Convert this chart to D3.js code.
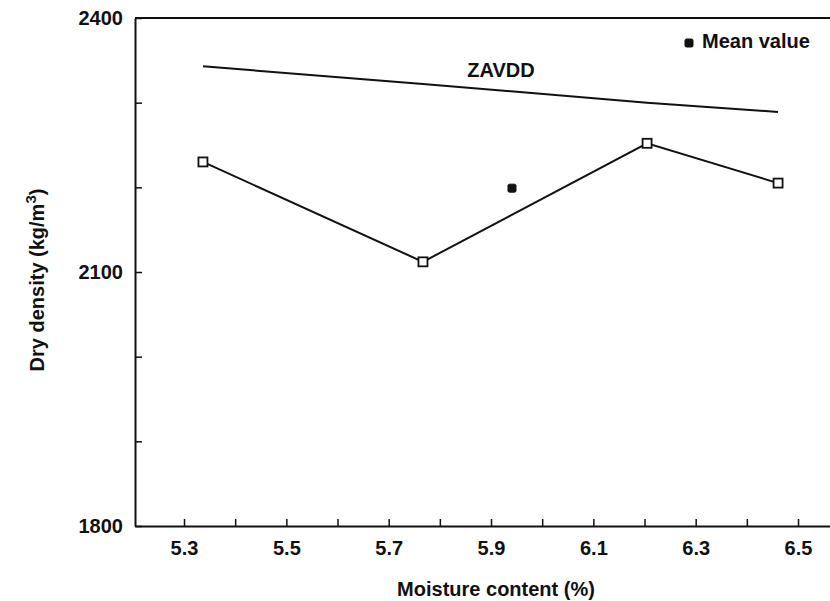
<!DOCTYPE html>
<html>
<head>
<meta charset="utf-8">
<script src="https://cdn.jsdelivr.net/npm/d3@7"></script>
<style>
  html, body { margin: 0; padding: 0; background: #fff; }
  text { font-family: "Liberation Sans", Arial, Helvetica, sans-serif; fill: #111; font-weight: bold; }
</style>
</head>
<body>
<svg id="chart" width="830" height="601"></svg>
<script>
// ---- data ----
const moisture = [5.337, 5.767, 6.205, 6.461];
const dryDensity = [2230, 2112, 2252, 2205];
const zavdd = [2343, 2322, 2300, 2289];
const meanMoisture = [5.941];
const meanDensity = [2199];
const xTickValues = [5.3, 5.4, 5.5, 5.6, 5.7, 5.8, 5.9, 6.0, 6.1, 6.2, 6.3, 6.4, 6.5];
const xTickLabels = ["5.3", "5.5", "5.7", "5.9", "6.1", "6.3", "6.5"];
const yTickValues = [1800, 1900, 2000, 2100, 2200, 2300, 2400];
const yTickLabels = ["1800", "2100", "2400"];

const svg = d3.select("#chart");
const x = d3.scaleLinear().domain([5.2042, 6.5625]).range([135, 830]);
const y = d3.scaleLinear().domain([1800, 2400]).range([526, 18]);

const ink = "#111";
const FS = 20;
const fontFam = "'Liberation Sans', Arial, sans-serif";

// top frame line
svg.append("line").attr("x1", x.range()[0]).attr("x2", x.range()[1])
  .attr("y1", y(2400)).attr("y2", y(2400)).attr("stroke", ink).attr("stroke-width", 2);

// x axis (ticks inward)
const xAxis = d3.axisBottom(x).tickValues(xTickValues).tickSizeInner(-7).tickSizeOuter(0)
  .tickFormat(d => xTickLabels.includes(d.toFixed(1)) ? d.toFixed(1) : "");
const gx = svg.append("g").attr("transform", `translate(0,${y(1800)})`).call(xAxis);
gx.select(".domain").attr("stroke", ink).attr("stroke-width", 2);
gx.selectAll(".tick line").attr("stroke", ink).attr("stroke-width", 1.5);
gx.selectAll(".tick text").attr("y", 15).attr("font-size", FS)
  .style("font-family", fontFam).style("font-weight", "bold").attr("fill", ink);

// y axis (ticks inward)
const yAxis = d3.axisLeft(y).tickValues(yTickValues).tickSizeInner(-7).tickSizeOuter(0)
  .tickFormat(d => yTickLabels.includes(String(d)) ? String(d) : "");
const gy = svg.append("g").attr("transform", `translate(${x.range()[0]},0)`).call(yAxis);
gy.select(".domain").attr("stroke", ink).attr("stroke-width", 2);
gy.selectAll(".tick line").attr("stroke", ink).attr("stroke-width", 1.5);
gy.selectAll(".tick text").attr("x", -12).attr("font-size", FS)
  .style("font-family", fontFam).style("font-weight", "bold").attr("fill", ink);

// axis titles
svg.append("text").attr("x", 496).attr("y", 596).attr("text-anchor", "middle")
  .attr("font-size", FS).text("Moisture content (%)");
const yt = svg.append("text").attr("transform", "translate(44,280) rotate(-90)")
  .attr("text-anchor", "middle").attr("font-size", FS);
yt.append("tspan").text("Dry density (kg/m");
yt.append("tspan").attr("dy", -8).attr("font-size", 15).text("3");
yt.append("tspan").attr("dy", 8).text(")");

// ZAVDD line
const line = d3.line().x(d => x(d[0])).y(d => y(d[1]));
svg.append("path").datum(moisture.map((m, i) => [m, zavdd[i]]))
  .attr("d", line).attr("fill", "none").attr("stroke", ink).attr("stroke-width", 2);
svg.append("text").attr("x", 501).attr("y", 77).attr("text-anchor", "middle")
  .attr("font-size", FS).text("ZAVDD");

// measured line
const pts = moisture.map((m, i) => [m, dryDensity[i]]);
svg.append("path").datum(pts).attr("d", line).attr("fill", "none")
  .attr("stroke", ink).attr("stroke-width", 2);
svg.selectAll("rect.pt").data(pts).enter().append("rect").attr("class", "pt")
  .attr("x", d => x(d[0]) - 4.5).attr("y", d => y(d[1]) - 4.5)
  .attr("width", 9).attr("height", 9)
  .attr("fill", "#fff").attr("stroke", ink).attr("stroke-width", 1.8);

// mean value point
const meanPts = meanMoisture.map((m, i) => [m, meanDensity[i]]);
svg.selectAll("rect.mean").data(meanPts).enter().append("rect").attr("class", "mean")
  .attr("x", d => x(d[0]) - 4).attr("y", d => y(d[1]) - 4)
  .attr("width", 8).attr("height", 8).attr("rx", 1.5)
  .attr("fill", ink).attr("stroke", ink).attr("stroke-width", 1);

// legend
svg.append("rect").attr("x", 685).attr("y", 39).attr("width", 8).attr("height", 8)
  .attr("rx", 1.5).attr("fill", ink).attr("stroke", ink).attr("stroke-width", 1);
svg.append("text").attr("x", 702).attr("y", 48).attr("font-size", FS).text("Mean value");
</script>
</body>
</html>
